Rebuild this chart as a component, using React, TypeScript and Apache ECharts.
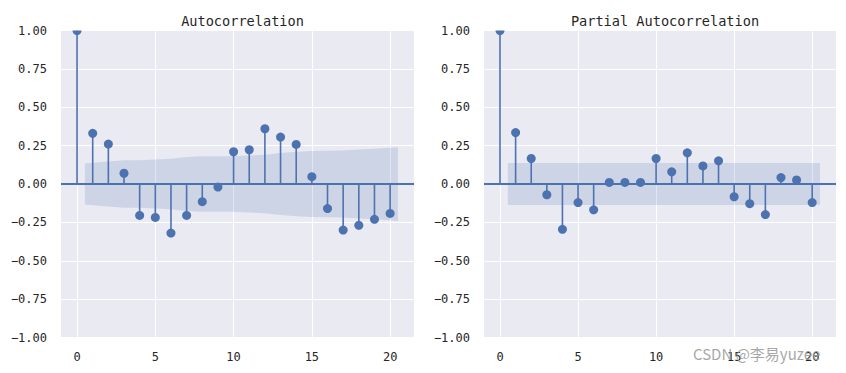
import React, { useEffect, useRef } from "react";
import * as echarts from "echarts";

const lags = [0, 1, 2, 3, 4, 5, 6, 7, 8, 9, 10, 11, 12, 13, 14, 15, 16, 17, 18, 19, 20];
const acfValues = [1.0, 0.33, 0.26, 0.07, -0.205, -0.218, -0.32, -0.205, -0.115, -0.02, 0.21, 0.223, 0.36, 0.306, 0.258, 0.048, -0.16, -0.3, -0.269, -0.23, -0.192];
const pacfValues = [1.0, 0.335, 0.166, -0.07, -0.295, -0.121, -0.168, 0.01, 0.01, 0.01, 0.166, 0.079, 0.203, 0.118, 0.151, -0.083, -0.128, -0.199, 0.042, 0.026, -0.121];
const bandX = [0.5, 2, 3, 4, 5, 6, 7, 8, 9, 10, 11, 12, 13, 14, 15, 16, 17, 18, 19, 20.5];
const acfBand = [0.133, 0.147, 0.155, 0.155, 0.16, 0.165, 0.176, 0.18, 0.181, 0.181, 0.185, 0.19, 0.202, 0.21, 0.215, 0.216, 0.218, 0.225, 0.23, 0.24];
const pacfBand = [0.136, 0.136, 0.136, 0.136, 0.136, 0.136, 0.136, 0.136, 0.136, 0.136, 0.136, 0.136, 0.136, 0.136, 0.136, 0.136, 0.136, 0.136, 0.136, 0.136];
const xTicks = [0, 5, 10, 15, 20];
const titles = ["Autocorrelation", "Partial Autocorrelation"];

const BLUE = "#4C72B0";
const TICK_FONT = "DejaVu Sans Mono";
const TITLE_FONT = "DejaVu Sans Mono";

export default function App() {
  const ref = useRef<HTMLDivElement>(null);
  useEffect(() => {
    if (!ref.current) return;
    const chart = echarts.init(ref.current, undefined, { renderer: "svg" });
    const grids = [
      { left: 61, top: 30.5, width: 353, height: 307 },
      { left: 484, top: 30.5, width: 352, height: 307 },
    ];
    const datasets = [
      { vals: acfValues, band: acfBand },
      { vals: pacfValues, band: pacfBand },
    ];
    const xAxes: any[] = [];
    const yAxes: any[] = [];
    const series: any[] = [];
    const titleOpts: any[] = [];
    grids.forEach((g, i) => {
      titleOpts.push({
        text: titles[i],
        left: g.left + g.width / 2,
        textAlign: "center",
        top: 9,
        textStyle: { fontFamily: TITLE_FONT, fontSize: 13.6, fontWeight: "normal", color: "#262626" },
      });
      xAxes.push({
        type: "value",
        gridIndex: i,
        min: -1.025,
        max: 21.525,
        axisLine: { show: false },
        axisTick: { show: false, customValues: xTicks },
        axisLabel: {
          customValues: xTicks,
          margin: 13,
          fontFamily: TICK_FONT,
          fontSize: 12,
          color: "#262626",
        },
        splitLine: { show: true, lineStyle: { color: "#ffffff", width: 1 } },
      });
      yAxes.push({
        type: "value",
        gridIndex: i,
        min: -1,
        max: 1,
        interval: 0.25,
        axisLine: { show: false },
        axisTick: { show: false },
        axisLabel: {
          margin: 14,
          fontFamily: TICK_FONT,
          fontSize: 12,
          color: "#262626",
          formatter: (v: number) => v.toFixed(2).replace("-", "\u2212"),
        },
        splitLine: { show: true, lineStyle: { color: "#ffffff", width: 1 } },
      });
      const d = datasets[i];
      const upper = bandX.map((x, k) => [x, d.band[k]]);
      const lower = bandX.map((x, k) => [x, -d.band[k]]);
      [upper, lower].forEach((bd) => {
        series.push({
          type: "line",
          xAxisIndex: i,
          yAxisIndex: i,
          data: bd,
          showSymbol: false,
          symbol: "none",
          silent: true,
          z: 2,
          lineStyle: { width: 0, opacity: 0 },
          areaStyle: { color: "rgba(76,114,176,0.25)", origin: 0 },
        });
      });
      series.push({
        type: "custom",
        xAxisIndex: i,
        yAxisIndex: i,
        clip: true,
        z: 3,
        data: lags.map((l, k) => [l, d.vals[k]]),
        renderItem: (params: any, api: any) => {
          const p0 = api.coord([api.value(0), 0]);
          const p1 = api.coord([api.value(0), api.value(1)]);
          return {
            type: "group",
            children: [
              {
                type: "line",
                shape: { x1: p0[0], y1: p0[1], x2: p1[0], y2: p1[1] },
                style: { stroke: BLUE, lineWidth: 1.6 },
              },
              {
                type: "circle",
                shape: { cx: p1[0], cy: p1[1], r: 4.5 },
                style: { fill: BLUE },
                z2: 5,
              },
            ],
          };
        },
        markLine: {
          silent: true,
          symbol: "none",
          label: { show: false },
          lineStyle: { color: BLUE, width: 1.8, type: "solid" },
          data: [{ yAxis: 0 }],
        },
      });
    });

    chart.setOption({
      animation: false,
      backgroundColor: "#ffffff",
      title: titleOpts,
      grid: grids.map((g) => ({ ...g, show: true, backgroundColor: "#EAEAF2", borderWidth: 0 })),
      xAxis: xAxes,
      yAxis: yAxes,
      series,
      graphic: [
        {
          type: "text",
          left: 693,
          top: 346,
          z: 100,
          style: {
            text: "CSDN @李易yuzee",
            font: "15px 'Noto Sans CJK SC', sans-serif",
            fill: "rgba(150,150,150,0.85)",
          },
        },
      ],
    });
    return () => chart.dispose();
  }, []);
  return (
    <div
      ref={ref}
      style={{ position: "fixed", left: 0, top: 0, width: 846, height: 373 }}
    />
  );
}
